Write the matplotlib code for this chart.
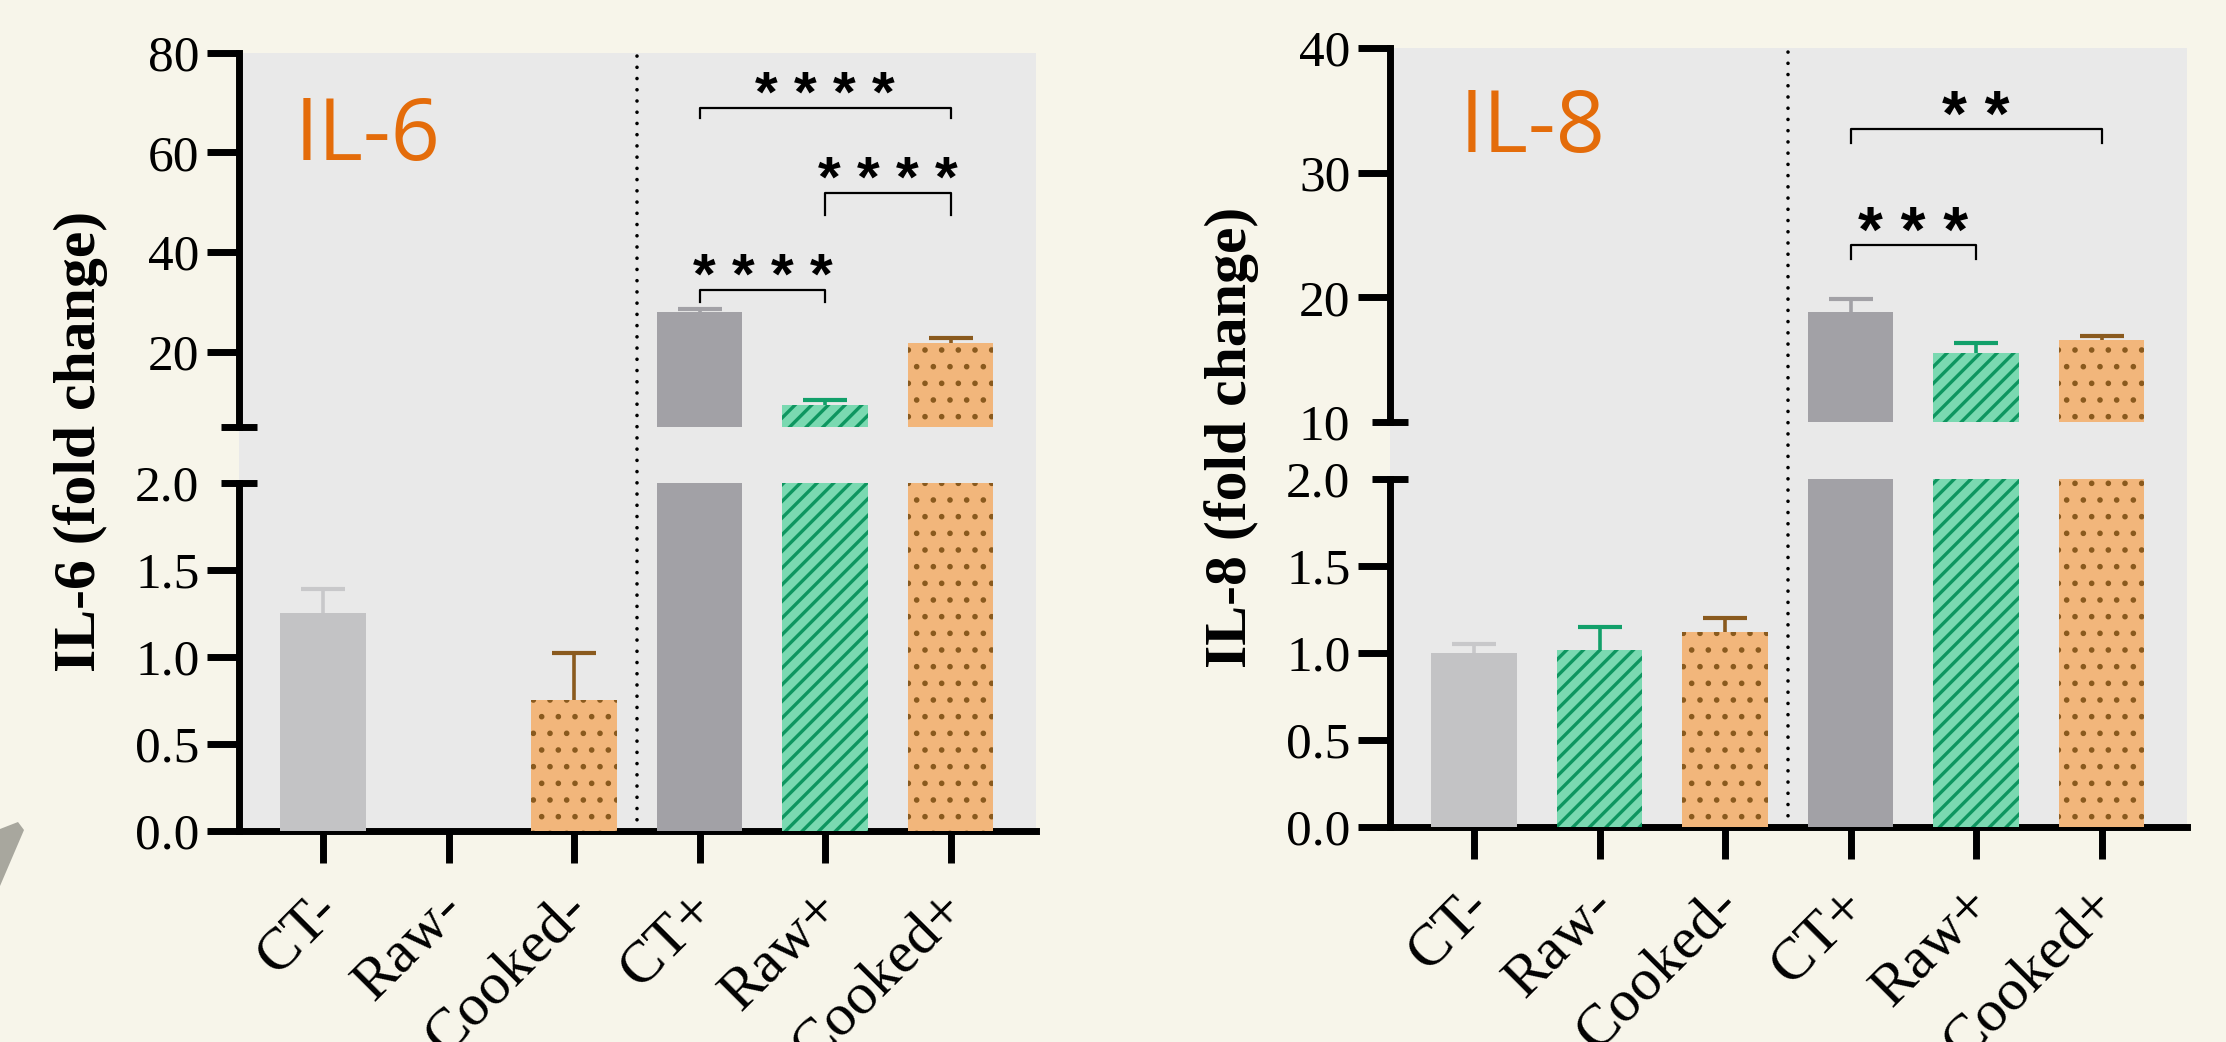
import matplotlib
matplotlib.use("Agg")
import matplotlib.pyplot as plt
from matplotlib.patches import Polygon
from matplotlib.ticker import FixedLocator, FixedFormatter, NullFormatter
from matplotlib.transforms import ScaledTranslation

W, H, DPI = 2226, 1042, 100

GROUPS = ["CT-", "Raw-", "Cooked-", "CT+", "Raw+", "Cooked+"]

IL6_MEAN = [1.25, 0.0, 0.75, 28.0, 9.3, 21.8]
IL6_ERR = [0.14, 0.0, 0.27, 0.6, 1.0, 0.9]
IL6_BRACKETS = [(3, 5, 69.0, 66.9, "* * * *"),
                (4, 5, 51.9, 47.4, "* * * *"),
                (3, 4, 32.4, 30.0, "* * * *")]

IL8_MEAN = [1.0, 1.02, 1.12, 18.85, 15.55, 16.6]
IL8_ERR = [0.05, 0.13, 0.08, 1.0, 0.82, 0.3]
IL8_BRACKETS = [(3, 5, 33.5, 32.35, "* *"),
                (3, 4, 24.2, 23.05, "* * *")]

LOWER_TICKS = [0.0, 0.5, 1.0, 1.5]
LOWER_LABELS = ["0.0", "0.5", "1.0", "1.5"]

PAGE = "#f7f5ea"
PLOT_BG = "#e9e9e9"
FILL = ["#c3c3c5", "#7ad9b1", "#f2b67b", "#a2a1a6", "#7ad9b1", "#f2b67b"]
PATTERN_COLOR = ["#c3c3c5", "#0e9660", "#8a5a1e", "#a2a1a6", "#0e9660", "#8a5a1e"]
HATCH = [None, "//", ".", None, "//", "."]
HATCH_LW = [1.0, 2.4, 1.6, 1.0, 2.4, 1.6]
ERR_COLOR = ["#c8c8ca", "#12a06a", "#8a5a1e", "#a2a1a6", "#12a06a", "#8a5a1e"]
TITLE_COLOR = "#e46c0a"

XLIM = (-0.67, 5.68)
BAR_W = 0.68

plt.rcParams["font.family"] = ["Liberation Serif", "DejaVu Serif"]
plt.rcParams["hatch.linewidth"] = 2.4


def px_rect(x0, y0, x1, y1):
    return [x0 / W, 1 - y1 / H, (x1 - x0) / W, (y1 - y0) / H]


def draw_bars(ax, means, errs):
    for i, m in enumerate(means):
        with plt.rc_context({"hatch.linewidth": HATCH_LW[i]}):
            bar = ax.bar(i, m, width=BAR_W, color=FILL[i], edgecolor=PATTERN_COLOR[i],
                         hatch=HATCH[i], linewidth=0, zorder=3)[0]
        if hasattr(bar, "set_hatch_linewidth"):
            bar.set_hatch_linewidth(HATCH_LW[i])
        if errs[i] > 0:
            eb = ax.errorbar(i, m, yerr=[[0], [errs[i]]], fmt="none", ecolor=ERR_COLOR[i],
                             elinewidth=2.6, capsize=15.5, capthick=3.0, zorder=2)
            eb[1][0].set_visible(False)


def style_y(ax, major, major_labels, brk, brk_label):
    ax.set_xlim(*XLIM)
    ax.yaxis.set_major_locator(FixedLocator(major))
    ax.yaxis.set_major_formatter(FixedFormatter(major_labels))
    ax.yaxis.set_minor_locator(FixedLocator([brk]))
    if brk_label:
        ax.yaxis.set_minor_formatter(FixedFormatter([brk_label]))
    else:
        ax.yaxis.set_minor_formatter(NullFormatter())
    ax.tick_params(axis="y", which="major", direction="out", length=23, width=5,
                   pad=5.5, labelsize=37)
    ax.tick_params(axis="y", which="minor", direction="inout", length=26.6, width=5,
                   pad=15.2, labelsize=37)
    for side in ("top", "right"):
        ax.spines[side].set_visible(False)
    ax.spines["left"].set_linewidth(5)


def draw_panel(fig, x0, x1, top, bottom, means, errs, upper_lim, upper_ticks,
               brk_label, brackets, title, title_pos, ylabel, ylabel_x, star_size):
    # one grey background behind both halves of the broken axis
    bg = fig.add_axes(px_rect(x0, top[0], x1, bottom[1]), zorder=0)
    bg.set_facecolor(PLOT_BG)
    bg.set_xlim(*XLIM)
    bg.set_xticks([])
    bg.set_yticks([])
    for s in bg.spines.values():
        s.set_visible(False)
    bg.axvline(2.5, color="black", lw=2.6, linestyle=(0, (0.01, 3.1)),
               dash_capstyle="round")

    up = fig.add_axes(px_rect(x0, top[0], x1, top[1]), zorder=2)
    up.set_facecolor("none")
    up.set_ylim(*upper_lim)
    style_y(up, upper_ticks, [str(t) for t in upper_ticks], upper_lim[0], brk_label)
    up.spines["bottom"].set_visible(False)
    up.set_xticks([])
    draw_bars(up, means, errs)

    lo = fig.add_axes(px_rect(x0, bottom[0], x1, bottom[1]), zorder=2)
    lo.set_facecolor("none")
    lo.set_ylim(0, 2.0)
    style_y(lo, LOWER_TICKS, LOWER_LABELS, 2.0, "2.0")
    lo.spines["bottom"].set_linewidth(5)
    lo.set_xticks(range(len(GROUPS)))
    lo.set_xticklabels(GROUPS, rotation=45, ha="right", va="top", rotation_mode="anchor")
    lo.tick_params(axis="x", direction="out", length=23, width=5, pad=14, labelsize=43)
    shift = ScaledTranslation(-12 / DPI, 0, fig.dpi_scale_trans)
    for lab in lo.get_xticklabels():
        lab.set_transform(lab.get_transform() + shift)
    draw_bars(lo, means, errs)

    # stars: glyph centre should land ~19px above the bracket line
    em_px = star_size * DPI / 72
    dy = (19.5 - 0.41 * em_px) * 72 / DPI
    for a, b, y, leg, label in brackets:
        up.plot([a, a, b, b], [leg, y, y, leg], color="black", lw=1.6,
                clip_on=False, zorder=4)
        up.annotate(label, xy=((a + b) / 2, y), xytext=(0, dy),
                    textcoords="offset points", ha="center", va="baseline",
                    fontsize=star_size, fontweight="bold", family="Liberation Sans",
                    annotation_clip=False)

    up.text(title_pos[0], title_pos[1], title, transform=up.transAxes,
            fontsize=62, color=TITLE_COLOR, family="Open Sans", va="baseline")

    fig.text(ylabel_x / W, 1 - (top[0] + bottom[1]) / 2 / H, ylabel, rotation=90,
             ha="center", va="center", fontsize=43, fontweight="bold")


def main():
    fig = plt.figure(figsize=(W / DPI, H / DPI), dpi=DPI, facecolor=PAGE)

    # bit of the slide decoration peeking in at the lower left
    deco = [(0, 829), (18, 822), (24, 830), (0, 886)]
    fig.add_artist(Polygon([(x / W, 1 - y / H) for x, y in deco], closed=True,
                           transform=fig.transFigure, facecolor="#a8a79e",
                           edgecolor="none"))

    draw_panel(fig, 239, 1036, (52.7, 426.7), (482.7, 830.7), IL6_MEAN, IL6_ERR,
               (5, 80), [20, 40, 60, 80], None, IL6_BRACKETS, "IL-6", (0.07, 0.713),
               "IL-6 (fold change)", 81, 42)
    draw_panel(fig, 1390, 2187, (48, 422), (479, 827), IL8_MEAN, IL8_ERR,
               (10, 40), [20, 30, 40], "10", IL8_BRACKETS, "IL-8", (0.087, 0.722),
               "IL-8 (fold change)", 1232, 46)

    fig.savefig("out.png", dpi=DPI, facecolor=PAGE)
    plt.close(fig)


if __name__ == "__main__":
    main()
